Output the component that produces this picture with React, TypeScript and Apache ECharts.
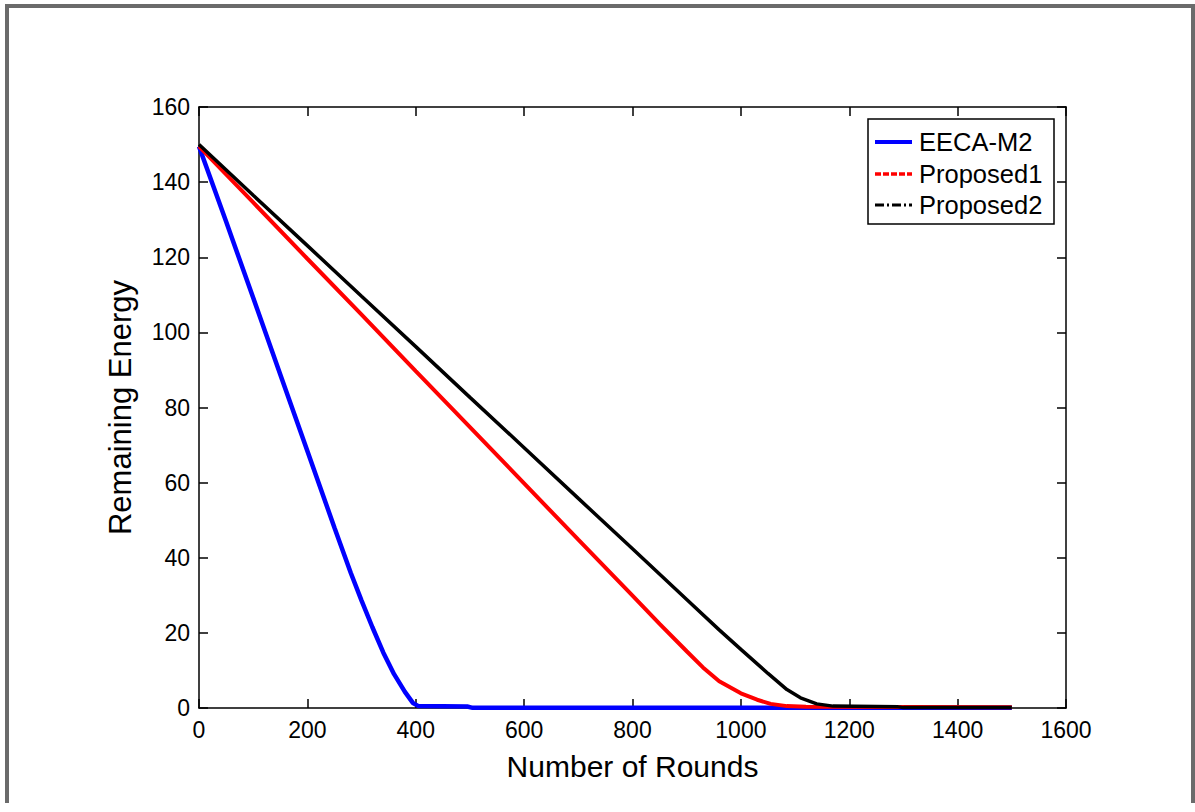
import React, { useEffect, useRef } from "react";
import * as echarts from "echarts";

const xTicks = [0, 200, 400, 600, 800, 1000, 1200, 1400, 1600];
const yTicks = [0, 20, 40, 60, 80, 100, 120, 140, 160];

const seriesNames = ["EECA-M2", "Proposed1", "Proposed2"];

const eecaM2: [number, number][] = [
  [0, 149.5], [50, 129.5], [100, 109.2], [150, 88.8], [200, 68.4], [250, 48],
  [280, 36], [300, 28.6], [320, 21.5], [340, 14.8], [360, 9], [380, 4.3],
  [395, 1.3], [405, 0.5], [450, 0.45], [495, 0.4], [505, 0.05], [1500, 0.05],
];

const proposed1: [number, number][] = [
  [0, 149.5], [100, 134.6], [200, 119.6], [300, 104.7], [400, 89.7], [500, 74.8],
  [600, 59.8], [700, 44.8], [800, 29.9], [850, 22.4], [900, 15.1], [930, 10.8],
  [960, 7.1], [1000, 3.9], [1030, 2.2], [1055, 1.1], [1085, 0.5], [1120, 0.3],
  [1500, 0.2],
];

const proposed2: [number, number][] = [
  [0, 150], [100, 136.5], [200, 123.1], [300, 109.6], [400, 96.2], [500, 82.7],
  [600, 69.3], [700, 55.8], [800, 42.4], [900, 28.9], [960, 20.8], [1000, 15.6],
  [1050, 9.2], [1085, 4.9], [1110, 2.7], [1140, 1.1], [1170, 0.5], [1290, 0.3],
  [1300, 0.1], [1500, 0.1],
];

const colors = ["#0000ff", "#ff0000", "#000000"];
const widths = [4.5, 4, 3.5];
const legendDash: (number[] | null)[] = [null, [6, 2], [9, 3, 2, 3]];

export default function App() {
  const ref = useRef<HTMLDivElement>(null);
  useEffect(() => {
    if (!ref.current) return;
    const chart = echarts.init(ref.current, null, { renderer: "svg" });
    const font = "'Liberation Sans', Arial, sans-serif";
    const left = 199, top = 107, right = 1066, bottom = 708;
    const tick = { show: true, inside: true, length: 9, lineStyle: { color: "#000", width: 1.5 } };
    const axisLine = { show: true, onZero: false, lineStyle: { color: "#000", width: 1.5 } };
    const xBase = {
      type: "value" as const,
      min: xTicks[0], max: xTicks[xTicks.length - 1], interval: xTicks[1] - xTicks[0],
      axisLine, axisTick: tick, splitLine: { show: false },
    };
    const yBase = {
      type: "value" as const,
      min: yTicks[0], max: yTicks[yTicks.length - 1], interval: yTicks[1] - yTicks[0],
      axisLine, axisTick: tick, splitLine: { show: false },
    };
    const legendTop = 119, legendLeft = 868, legendRight = 1054, legendBottom = 224;
    const rowY = [142, 174, 205];
    const legendEls: any[] = [
      {
        type: "rect",
        shape: { x: legendLeft, y: legendTop, width: legendRight - legendLeft, height: legendBottom - legendTop },
        style: { fill: "#fff", stroke: "#000", lineWidth: 1.5 },
        z: 100,
      },
    ];
    seriesNames.forEach((n, i) => {
      legendEls.push({
        type: "line",
        shape: { x1: 875, y1: rowY[i], x2: 912, y2: rowY[i] },
        style: { stroke: colors[i], lineWidth: widths[i] - 0.5, lineDash: legendDash[i] || undefined },
        z: 101,
      });
      legendEls.push({
        type: "text",
        x: 919,
        y: rowY[i],
        style: { text: n, fill: "#000", font: `25.5px ${font}`, verticalAlign: "middle" },
        z: 101,
      });
    });

    chart.setOption({
      animation: false,
      backgroundColor: "#fff",
      grid: [{ left, top, width: right - left, height: bottom - top, containLabel: false }],
      xAxis: [
        {
          ...xBase,
          position: "bottom",
          axisLabel: { show: true, color: "#000", fontSize: 23, fontFamily: font, margin: 10, formatter: (v: number) => String(v) },
        },
        { ...xBase, position: "top", axisLabel: { show: false } },
      ],
      yAxis: [
        {
          ...yBase,
          position: "left",
          axisLabel: { show: true, color: "#000", fontSize: 23, fontFamily: font, margin: 9, formatter: (v: number) => String(v) },
        },
        { ...yBase, position: "right", axisLabel: { show: false } },
      ],
      series: [eecaM2, proposed1, proposed2].map((d, i) => ({
        name: seriesNames[i],
        type: "line",
        data: d,
        xAxisIndex: 0,
        yAxisIndex: 0,
        showSymbol: false,
        symbol: "none",
        clip: false,
        lineStyle: { color: colors[i], width: widths[i] },
        z: 2 + i,
      })),
      graphic: [
        {
          type: "polyline",
          shape: { points: [[7, 803], [7, 6], [1193, 6], [1193, 803]] },
          style: { stroke: "#6b6b6b", lineWidth: 4, fill: "none" },
          z: 50,
        },
        {
          type: "text",
          x: (left + right) / 2,
          y: 766,
          style: { text: "Number of Rounds", fill: "#000", font: `30px ${font}`, align: "center", verticalAlign: "middle" },
        },
        {
          type: "text",
          x: 120,
          y: (top + bottom) / 2,
          rotation: Math.PI / 2,
          style: { text: "Remaining Energy", fill: "#000", font: `31px ${font}`, align: "center", verticalAlign: "middle" },
        },
        ...legendEls,
      ],
    });
    return () => chart.dispose();
  }, []);
  return <div ref={ref} style={{ position: "fixed", left: 0, top: 0, width: 1195, height: 812 }} />;
}
